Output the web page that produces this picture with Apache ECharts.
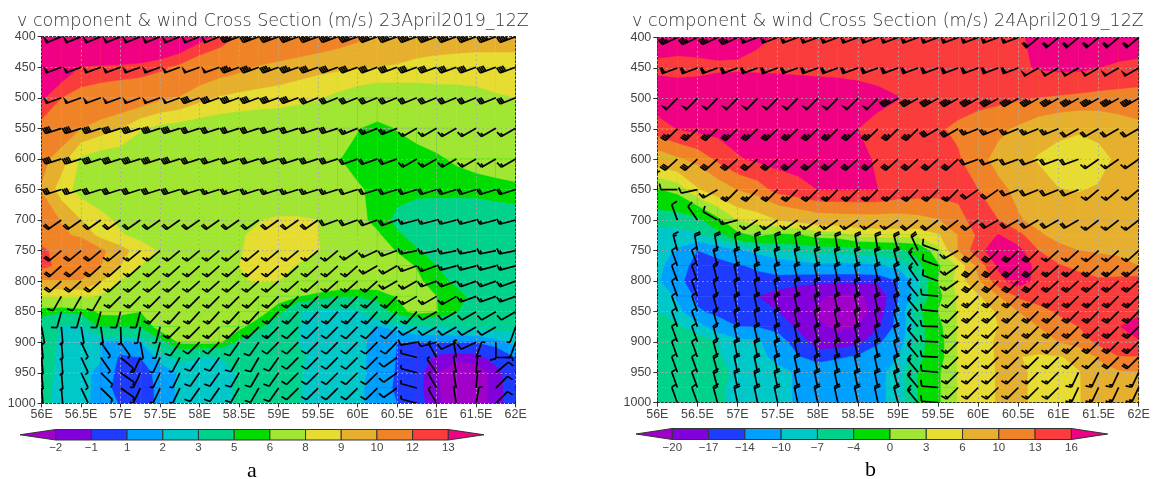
<!DOCTYPE html>
<html><head><meta charset="utf-8">
<style>html,body{margin:0;padding:0;background:#fff}#c{width:1156px;height:479px}</style>
<script src="https://cdn.jsdelivr.net/npm/echarts@6/dist/echarts.min.js"></script>
</head><body><div id="c"></div>
<script>
const lons=[56,56.25,56.5,56.75,57,57.25,57.5,57.75,58,58.25,58.5,58.75,59,59.25,59.5,59.75,60,60.25,60.5,60.75,61,61.25,61.5,61.75,62];
const fieldLevels=[400,450,500,550,600,650,700,725,750,775,800,825,850,875,900,925,950,975,1000];
const windLevels=[400,450,500,550,600,650,700,750,775,800,825,850,875,900,925,950,975,1000];
const colours=['#a000c8','#8200dc','#1e3cff','#00a0ff','#00c8c8','#00d28c','#00dc00','#a0e632','#e6dc32','#e6af2d','#f08228','#fa3c3c','#f00082'];
const levelsA=[-2,-1,1,2,3,5,6,8,9,10,12,13];
const levelsB=[-20,-17,-14,-10,-7,-4,0,3,6,10,13,16];
const titleA='v component & wind Cross Section (m/s) 23April2019_12Z';
const titleB='v component & wind Cross Section (m/s) 24April2019_12Z';

const fieldA=[
[17,17,17,16,16,15.5,15,14.5,13.5,12.8,11.9,11.5,11.2,11,10.8,10.5,10.2,9.9,9.8,9.7,9.6,9.6,9.5,9.5,9.5],
[15.5,14,12.9,12.8,12.7,12.6,12.3,11.7,11,10.6,10.3,9.9,9.7,9.5,9.3,9.2,9.1,9,8.9,8.7,8.6,8.5,8.5,8.5,8.5],
[13.2,12,11.5,11.2,11,10.8,10.2,9.9,9.3,8.9,8.7,8.6,8.5,8.3,8.1,7.7,7.3,7,7.1,7.3,7.5,7.6,7.7,7.9,8],
[11.5,10.8,10,9.5,9,8.1,7.7,7.5,7.3,7.2,7.1,7,7,6.9,6.8,6.4,6.05,5.7,6.05,6.5,6.8,7,7,7.2,7.3],
[10.3,9.5,7.8,7.4,7.3,7.2,7.2,7.1,7,7,6.9,6.8,6.7,6.5,6.3,6.05,5.7,5.6,5.5,5.5,5.8,6.2,6.6,6.8,6.9],
[9.9,8.5,7.6,7.3,7.1,7,7,6.9,6.9,6.8,6.8,6.7,6.5,6.4,6.3,6.2,6.1,5.8,5.4,5.3,5.3,5.3,5.3,5.5,5.7],
[11,9.9,9,8.3,7.8,7.6,7.4,7.4,7.4,7.4,7.6,7.95,8.2,8.2,8,7,6.4,5.6,4.7,4.3,4.2,4.2,4.2,4.2,4.2],
[11.5,10.3,9.7,8.7,8.1,7.7,7.6,7.6,7.6,7.6,7.9,8.2,8.4,8.4,8,7.2,6.8,6.2,5.2,4.5,4.2,4.2,4.2,4.2,4.2],
[12.2,11.6,11.5,10.2,9.4,8.5,7.9,7.6,7.5,7.5,7.9,8.4,8.6,8.5,8.05,7.6,7.3,6.8,5.9,5.1,4.5,4.3,4.2,4.2,4.2],
[12.5,11.5,11.3,10,9,8,7.6,7.5,7.5,7.7,8,8.3,8.4,7.9,7.6,7.4,7.2,7,6.6,5.9,5,4.4,4.2,4.2,4.2],
[9.8,9.9,9.9,9.1,7.9,7.5,7.2,7.2,7.3,7.5,7.9,8.1,8,7.7,7.5,7.2,7,6.9,6.7,6.3,5.3,4.8,4.3,4.2,4.2],
[8,8.2,8.2,7.9,7.4,7.2,7.1,7.1,7.1,7.1,7,6.8,6.5,6.05,5.5,5.1,5.1,5.3,6.1,6.7,6,5.3,4.7,4.5,4.3],
[5.3,5.1,5.4,6.2,6.3,6,6.5,6.8,7,7,6.9,6.5,5.4,3.1,2.6,2.5,2.7,4.2,5.5,6.4,6.05,5.1,4.2,4,3.9],
[4.4,2.9,2.6,5.2,5,5,6.5,6.8,7,7,6.3,5.3,3.6,3.05,2.5,2.4,2.4,1.9,2.3,3,3.05,3.2,3.3,3.4,3.4],
[4.2,2.6,2.3,2,1.8,2,4.5,6.2,6.3,6.2,4.7,3.8,3.5,3,2.5,2.4,2.4,1.5,1,1,1,1,1,1.6,2.3],
[4.1,2.5,2.2,2.1,.8,1,2.3,3.4,3,3,3.5,4,4,3.3,2.5,2.4,2.3,1.6,.95,.3,-1.5,-1.8,-1.6,-.3,1],
[4,2.4,2.2,1.8,.6,.3,1.5,2.1,2.4,2.4,3.1,3.6,3.6,3.1,2.6,2.4,2.3,1.6,.9,-.5,-1.95,-2.6,-2.6,-1.6,.2],
[3.6,2.4,2.3,1.7,.4,.1,1.4,2.2,2.4,2.5,3.2,3.5,3.5,3.1,2.5,2.4,2.2,1.6,.8,-.6,-1.9,-2.6,-2.6,-1.6,0],
[3.4,2.6,2.3,1.6,.9,.2,1.35,2.15,2.4,2.7,3.2,3.5,3.5,3.1,2.5,2.4,2.2,1.6,1,-.4,-1.8,-2.6,-2.6,-1.6,0]
];
const fieldB=[
[17.5,17.5,17.5,17.5,17,16.3,15.8,15.6,15.5,15.5,15.5,15.4,15.4,15.4,15.3,15.3,15.3,15.5,15.8,16.4,17,17.3,17.5,17.5,17.5],
[15.3,15,15.2,15.5,15.6,15.5,15.4,15.2,15.2,15,14.9,14.8,14.8,14.7,14.7,14.7,14.8,15,15.6,16.2,16.5,16.5,16,15.6,15.3],
[18,18,18,18.5,18.5,18.5,18.5,18.5,18,18,17.5,16.8,16.1,14.8,14.4,14.2,14,13.7,13.3,12.9,12.6,12.3,12,11.8,11.6],
[14.5,16.1,16.8,17,17.2,17.3,17.3,17,16.8,16.5,16,15,14.5,14,13.3,12.5,11.5,10.7,9.5,8,7,6.4,7,8.3,9.3],
[8,9.4,11,13.5,15.7,16.5,17,17.2,17.2,17.2,17,15.5,14.9,14.5,14,13.3,11,9,7.3,5.6,4.5,4.3,4.8,6.7,7.5],
[-.3,1,5.5,8,10,11.5,14,15,16,16,16,16,15,14.6,14.2,14,13,10.8,9.2,8,6.1,5.8,6.3,8,8.5],
[-6,-6,-5,-1,3,4,6,7,8,8.3,8.5,8.5,8.5,9,9.8,11.8,14.5,13,10.3,9,8.5,8.2,8,8,8],
[-8,-8,-7.5,-5.5,-1,.5,-1,-.5,1,1.5,3.5,4,4,3.7,5.5,10,13.5,16.2,14,10.5,9,8.5,8,8,8],
[-8.5,-10.5,-14,-12,-10.5,-9,-7,-6.5,-6,-6,-5.5,-5,-4.5,-3,2,10,15,18,17,13,11,10,9.8,9.8,9.8],
[-9,-12,-15.5,-16,-14.3,-13.5,-12.5,-11.5,-10.8,-11,-11,-10.5,-9,-5,-.5,3.3,11,16.5,18,15,13.3,12,10.8,10.3,10],
[-9.5,-13,-16,-16.5,-16,-15,-15,-16,-16.5,-16.5,-16.5,-16.5,-14,-8,0,4,9.5,15,17.5,15,14.5,14.5,13.6,14,14.3],
[-8,-10.5,-15,-16,-16.5,-17,-18.5,-19,-19.5,-20.5,-20.5,-19,-14.5,-7,-1,3.5,5.5,9.8,13.5,14.5,15,15,15,15,15],
[-7,-9,-13.5,-15,-16,-16.5,-17,-19,-20.5,-21,-21,-19,-13,-5,0,3.2,3.8,6.5,10,11.8,13.5,14,14.5,15,15.5],
[-6,-6.5,-8.5,-12,-14,-14.2,-15,-17.5,-19.5,-20.5,-20,-17.5,-13,-5.5,-1,3.2,4,6,7.5,10,11.5,13,15,15.9,17],
[-5.5,-5.5,-5.5,-7,-9,-9.5,-12.5,-15.5,-18.5,-19,-18,-14.5,-12,-5.5,-1.5,3.3,4.5,6.5,7,8,10,11.5,13.7,15,15.8],
[-5,-5,-5,-6.5,-9,-9.5,-10.5,-13.7,-15.5,-14.5,-13.5,-12,-10,-5,-1.5,3.3,4.7,6.3,6.1,5.5,5.7,7,10.5,12.9,12.9],
[-5,-5,-4.8,-5.5,-8,-8.5,-9.5,-10.2,-11.5,-11.5,-11.5,-11,-8.5,-4,-.5,3.2,4.8,6.2,6.4,5.5,4.8,5.8,8,9.6,9.8],
[-5,-5,-4.8,-6,-8.5,-8.5,-9.5,-10.2,-11.5,-11.5,-11.5,-11,-8.5,-4,-.5,3.2,4.8,6.2,6.4,5.5,4.8,5.8,7.5,8,8],
[-5,-5,-4.8,-6,-8.5,-8.5,-9.5,-10.2,-11.5,-11.5,-11.5,-11,-8.5,-4,-.5,3.2,4.8,6.2,6.4,5.5,4.8,5.8,7.5,8,8]
];
// wind: one row per pressure level, runs of [direction deg, speed kt, number of columns]
const windA=[
[[248,48,1],[248,52,6],[248,48,3],[250,45,15]],
[[250,52,10],[250,45,4],[250,38,11]],
[[250,48,8],[250,38,6],[248,30,11]],
[[252,42,8],[252,32,8],[248,25,3],[240,15,6]],
[[252,38,8],[252,28,8],[250,22,3],[240,15,6]],
[[252,28,8],[252,25,8],[252,20,9]],
[[235,18,15],[250,18,4],[255,15,6]],
[[230,22,4],[230,14,12],[235,14,1],[245,14,1],[250,14,1],[258,14,6]],
[[228,22,4],[228,14,13],[240,14,2],[250,14,2],[255,14,4]],
[[228,22,4],[228,14,14],[240,14,2],[250,14,5]],
[[210,10,4],[225,14,15],[240,14,3],[250,14,3]],
[[195,8,6],[222,13,14],[240,12,5]],
[[170,4,1],[175,4,1],[170,4,1],[172,4,1],[178,4,1],[190,4,1],[195,4,1],[225,13,6],[225,10,6],[240,8,5],[200,4,1]],
[[175,4,2],[155,4,1],[145,4,2],[170,4,1],[195,4,1],[215,8,1],[225,12,2],[215,8,2],[225,10,7],[260,8,1],[255,8,1],[245,8,2],[180,8,1],[200,4,1]],
[[175,4,2],[155,4,1],[145,4,1],[130,4,1],[205,4,2],[208,6,1],[215,8,2],[210,8,2],[215,10,1],[225,10,5],[235,10,1],[285,4,1],[330,4,1],[350,4,1],[20,4,1],[90,4,1],[40,4,1]],
[[175,4,2],[155,4,1],[135,4,1],[125,4,1],[205,4,3],[215,8,2],[210,8,2],[215,10,1],[225,10,5],[235,10,1],[285,4,1],[325,4,1],[350,4,1],[5,4,1],[50,8,1],[40,4,1]],
[[175,4,2],[155,4,1],[135,4,1],[125,4,1],[205,4,3],[215,8,2],[210,8,2],[215,10,1],[225,10,5],[235,10,1],[285,4,1],[330,4,1],[350,4,1],[5,4,1],[45,8,1],[40,4,1]],
[[175,4,2],[155,4,1],[135,4,1],[125,4,1],[205,4,3],[215,8,2],[210,8,2],[215,10,1],[225,10,5],[235,10,1],[285,4,1],[330,4,1],[350,4,1],[10,4,1],[45,8,1],[40,4,1]]
];
const windB=[
[[245,35,5],[250,55,14],[230,60,6]],
[[250,60,19],[240,50,6]],
[[225,48,12],[240,45,13]],
[[225,35,14],[240,28,2],[248,25,5],[240,18,4]],
[[228,30,16],[250,20,6],[235,15,3]],
[[350,12,1],[270,12,1],[258,12,1],[240,14,1],[225,25,12],[235,20,2],[248,18,4],[230,15,3]],
[[340,12,2],[325,12,1],[300,12,1],[255,14,1],[235,15,8],[232,20,4],[240,20,5],[232,15,3]],
[[335,15,1],[345,15,1],[350,22,10],[345,20,1],[335,18,1],[290,12,1],[240,14,1],[225,28,4],[228,15,5]],
[[340,12,3],[345,15,1],[348,22,8],[345,20,1],[325,15,1],[290,12,1],[235,14,1],[225,28,4],[228,25,5]],
[[340,12,3],[345,15,1],[348,22,8],[345,20,1],[325,15,1],[290,12,1],[235,14,1],[225,28,4],[228,25,5]],
[[340,12,3],[345,15,1],[348,22,8],[345,20,1],[320,15,1],[275,10,1],[225,14,1],[225,25,9]],
[[340,12,3],[345,15,1],[348,22,8],[345,20,1],[320,15,1],[275,10,1],[225,14,1],[225,25,9]],
[[340,10,3],[345,15,1],[348,22,8],[345,20,1],[320,15,1],[272,10,1],[225,15,1],[225,15,3],[225,25,6]],
[[340,10,3],[345,15,1],[348,22,8],[345,20,1],[320,15,1],[272,10,1],[225,15,1],[225,15,5],[225,25,4]],
[[340,10,3],[345,15,1],[348,22,8],[345,20,1],[320,15,1],[272,10,1],[225,15,1],[225,15,7],[225,22,2]],
[[340,10,3],[345,15,1],[348,22,8],[345,18,1],[320,15,1],[275,10,1],[225,14,1],[225,14,5],[205,14,4]],
[[340,10,3],[345,15,1],[348,22,8],[345,18,1],[320,15,1],[275,10,1],[225,14,1],[225,14,5],[205,14,4]],
[[340,10,3],[345,15,1],[348,22,8],[345,18,1],[320,15,1],[275,10,1],[225,14,1],[225,14,5],[205,14,4]]
];

function clipPoly(poly,L){
  const out=[];
  for(let i=0;i<poly.length;i++){
    const a=poly[i],b=poly[(i+1)%poly.length];
    const ai=a[2]>=L,bi=b[2]>=L;
    if(ai)out.push(a);
    if(ai!==bi){const t=(L-a[2])/(b[2]-a[2]);out.push([a[0]+t*(b[0]-a[0]),a[1]+t*(b[1]-a[1]),L]);}
  }
  return out;
}
function fieldSeries(field,levels,axisIdx){
  const data=[];
  for(let j=0;j<fieldLevels.length-1;j++)for(let i=0;i<lons.length-1;i++){
    data.push([lons[i],fieldLevels[j],lons[i+1],fieldLevels[j+1],field[j][i],field[j][i+1],field[j+1][i+1],field[j+1][i]]);
  }
  return {type:'custom',xAxisIndex:axisIdx,yAxisIndex:axisIdx,data,silent:true,clip:true,z:1,progressive:0,
    encode:{x:0,y:1},
    renderItem(p,api){
      const v=k=>api.value(k);
      const c00=api.coord([v(0),v(1)]),c10=api.coord([v(2),v(1)]),c11=api.coord([v(2),v(3)]),c01=api.coord([v(0),v(3)]);
      const quad=[[c00[0],c00[1],v(4)],[c10[0],c10[1],v(5)],[c11[0],c11[1],v(6)],[c01[0],c01[1],v(7)]];
      const children=[];
      const add=(poly,c)=>{ if(poly.length>2) children.push({type:'polygon',shape:{points:poly.map(q=>[q[0],q[1]])},style:{fill:c,stroke:c,lineWidth:.5}}); };
      const lo=Math.min(v(4),v(5),v(6),v(7));
      let base=0;
      levels.forEach((L,k)=>{if(lo>=L)base=k+1;});
      add(quad,colours[base]);
      levels.forEach((L,k)=>{if(k+1>base)add(clipPoly(quad,L),colours[k+1]);});
      return {type:'group',children};
    }};
}
function windSeries(wind,axisIdx){
  const data=[];
  wind.forEach((row,j)=>{let i=0;row.forEach(r=>{for(let n=0;n<r[2];n++){data.push([lons[i],windLevels[j],r[0],r[1]]);i++;}});});
  return {type:'custom',xAxisIndex:axisIdx,yAxisIndex:axisIdx,data,silent:true,clip:true,z:6,progressive:0,
    encode:{x:0,y:1},
    renderItem(p,api){
      const s=api.coord([api.value(0),api.value(1)]);
      const d=api.value(2)*Math.PI/180;let spd=Math.round(api.value(3)/5)*5;
      const L=16.5,fx=Math.sin(d),fy=-Math.cos(d);
      const tail=[s[0]+fx*L,s[1]+fy*L];
      const ux=-fx,uy=-fy,nx=uy,ny=-ux;
      const ls={stroke:'#000',lineWidth:1.7,fill:null};
      const children=[{type:'polyline',shape:{points:[s,tail]},style:ls}];
      let t=0;
      const at=o=>[tail[0]+ux*o,tail[1]+uy*o];
      while(spd>=50){const a=at(t),b=at(t+3),c=[a[0]+nx*6.5,a[1]+ny*6.5];
        children.push({type:'polygon',shape:{points:[a,b,c]},style:{fill:'#000',stroke:'#000',lineWidth:.5}});t+=3;spd-=50;}
      while(spd>=10){const a=at(t),e=[a[0]+nx*6-ux*1.4,a[1]+ny*6-uy*1.4];
        children.push({type:'polyline',shape:{points:[a,e]},style:ls});t+=2;spd-=10;}
      if(spd>=5){const a=at(t),e=[a[0]+nx*3.4-ux*.8,a[1]+ny*3.4-uy*.8];
        children.push({type:'polyline',shape:{points:[a,e]},style:ls});}
      return {type:'group',children};
    }};
}
function barSeries(n,axisIdx){
  const data=[];
  for(let k=-1;k<=n;k++)data.push([k,k+1,k+1]);
  return {type:'custom',xAxisIndex:axisIdx,yAxisIndex:axisIdx,data,silent:true,z:3,progressive:0,encode:{x:[0,1]},
    renderItem(p,api){
      const k=api.value(0),c=colours[api.value(2)];
      const a=api.coord([k,0]),b=api.coord([k+1,1]);
      const st={fill:c,stroke:'#333',lineWidth:1};
      if(k===-1)return {type:'polygon',shape:{points:[[a[0],(a[1]+b[1])/2],[b[0],a[1]],[b[0],b[1]]]},style:st};
      if(k===n)return {type:'polygon',shape:{points:[[b[0],(a[1]+b[1])/2],[a[0],a[1]],[a[0],b[1]]]},style:st};
      return {type:'rect',shape:{x:a[0],y:b[1],width:b[0]-a[0],height:a[1]-b[1]},style:st};
    }};
}
const lbl={fontFamily:'Liberation Sans',fontSize:12.5,color:'#444'};
const frame={show:true,lineStyle:{color:'#333',type:[2,2],width:1}};
const gridLn={show:true,lineStyle:{color:'#a8a8a8',type:[1.5,3],width:1}};
function lonAxis(g){return {type:'value',gridIndex:g,min:56,max:62,interval:.5,z:5,axisLine:{...frame,onZero:false},
  axisTick:{show:true,length:4,lineStyle:{color:'#333'}},splitLine:gridLn,
  axisLabel:{...lbl,margin:5,formatter:v=>v+'E'}};}
function levAxis(g){return {type:'value',gridIndex:g,inverse:true,min:400,max:1000,interval:50,z:5,axisLine:{...frame,onZero:false},
  axisTick:{show:true,length:4,lineStyle:{color:'#333'}},splitLine:gridLn,
  axisLabel:{...lbl,margin:6,formatter:v=>String(v)}};}
function topAxis(g){return {type:'value',gridIndex:g,position:'top',min:56,max:62,z:5,axisLine:{...frame,onZero:false},axisTick:{show:false},axisLabel:{show:false},splitLine:{show:false}};}
function rightAxis(g){return {type:'value',gridIndex:g,position:'right',inverse:true,min:400,max:1000,z:5,axisLine:{...frame,onZero:false},axisTick:{show:false},axisLabel:{show:false},splitLine:{show:false}};}
function barX(g,levels){return {type:'value',gridIndex:g,min:-1,max:levels.length,interval:1,
  axisLine:{show:false},axisTick:{show:false},splitLine:{show:false},
  axisLabel:{fontFamily:'Liberation Sans',fontSize:11.5,color:'#444',margin:2,showMinLabel:false,showMaxLabel:false,
    formatter:v=>(v>=0&&v<levels.length)?String(levels[v]).replace('-','\u2212'):''}};}
function barY(g){return {type:'value',gridIndex:g,min:0,max:1,show:false};}
const tStyle={fontFamily:'DejaVu Sans',fontSize:17.5,fontWeight:200,color:'#333'};
const chart=echarts.init(document.getElementById('c'),null,{renderer:'canvas'});
chart.setOption({
  animation:false,backgroundColor:'#fff',
  title:[
    {text:titleA,left:17,top:12,padding:0,textStyle:tStyle},
    {text:titleB,left:632,top:12,padding:0,textStyle:tStyle},
    {text:'a',left:247,top:460,padding:0,textStyle:{fontFamily:'Liberation Serif',fontSize:22,fontWeight:'normal',color:'#000'}},
    {text:'b',left:865,top:459,padding:0,textStyle:{fontFamily:'Liberation Serif',fontSize:22,fontWeight:'normal',color:'#000'}}
  ],
  grid:[
    {left:41.6,top:36.7,width:474,height:366.6},
    {left:657.3,top:37.5,width:481.4,height:365.2},
    {left:20,top:429.5,width:464,height:10.5},
    {left:636,top:428.5,width:471.7,height:11}
  ],
  xAxis:[lonAxis(0),lonAxis(1),barX(2,levelsA),barX(3,levelsB),topAxis(0),topAxis(1)],
  yAxis:[levAxis(0),levAxis(1),barY(2),barY(3),rightAxis(0),rightAxis(1)],
  series:[
    fieldSeries(fieldA,levelsA,0),fieldSeries(fieldB,levelsB,1),
    windSeries(windA,0),windSeries(windB,1),
    barSeries(levelsA.length-1,2),barSeries(levelsB.length-1,3)
  ]
});
</script></body></html>
